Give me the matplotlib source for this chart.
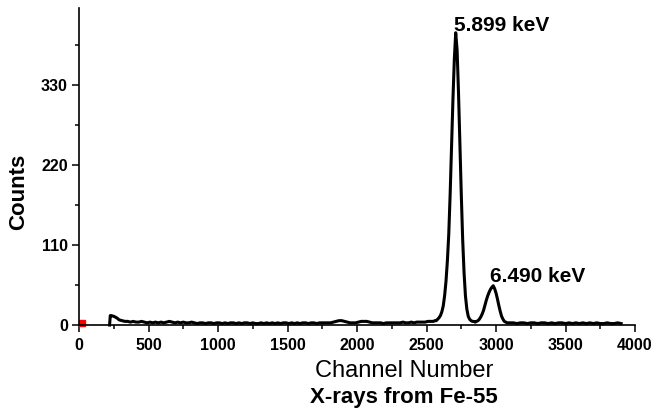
import matplotlib
matplotlib.use("Agg")
import matplotlib.pyplot as plt
from matplotlib.ticker import MultipleLocator

plt.rcParams['font.family'] = ['Liberation Sans', 'DejaVu Sans']

# spectrum: channel, counts
channels = [220, 225, 230, 250, 270, 290, 310, 330, 350, 370, 390, 410, 430, 450, 470, 490,
            510, 530, 550, 570, 590, 610, 630, 650, 670, 690, 710, 730, 750, 770, 790,
            810, 830, 850, 870, 890, 910, 930, 950, 970, 990, 1010, 1030, 1050, 1070, 1090,
            1110, 1130, 1150, 1170, 1190, 1210, 1230, 1250, 1270, 1290, 1310, 1330, 1350,
            1370, 1390, 1410, 1430, 1450, 1470, 1490, 1510, 1530, 1550, 1570, 1590, 1610,
            1630, 1650, 1670, 1690, 1710, 1730, 1750, 1770, 1790, 1810, 1830, 1850, 1870,
            1890, 1910, 1930, 1950, 1970, 1990, 2010, 2030, 2050, 2070, 2090, 2110, 2130,
            2150, 2170, 2190, 2210, 2230, 2250, 2270, 2290, 2310, 2330, 2350, 2370, 2390,
            2410, 2430, 2450, 2470, 2490, 2510, 2530, 2540,
            2550, 2560, 2570, 2580, 2590, 2600, 2610, 2620, 2630, 2640, 2650, 2660, 2670,
            2680, 2690, 2700, 2710, 2720, 2730, 2740, 2750, 2760, 2770, 2780, 2790, 2800,
            2810, 2820, 2830, 2840, 2850, 2860, 2870, 2880, 2890, 2900, 2910, 2920, 2930,
            2940, 2950, 2960, 2970, 2980, 2990, 3000, 3010, 3020, 3030, 3040, 3050, 3060,
            3070, 3080, 3100, 3125, 3150, 3175, 3200, 3225, 3250, 3275, 3300, 3325, 3350,
            3375, 3400, 3425, 3450, 3475, 3500, 3525, 3550, 3575, 3600, 3625, 3650, 3675,
            3700, 3725, 3750, 3775, 3800, 3825, 3850, 3875, 3900]
counts = [0, 13, 13, 12, 10, 7, 6, 5, 5, 4, 5, 4, 4, 5, 4, 3,
          4, 3, 4, 3, 4, 3, 4, 5, 4, 3, 4, 3, 4, 3, 3,
          4, 3, 2, 3, 3, 2, 3, 3, 2, 3, 3, 2, 3, 2, 3,
          3, 2, 3, 2, 3, 3, 2, 3, 2, 2, 3, 2, 3,
          2, 3, 2, 3, 2, 3, 3, 2, 3, 2, 3, 2, 3,
          3, 2, 3, 3, 2, 3, 3, 3, 3, 3, 4, 5, 6,
          6, 5, 4, 3, 3, 3, 4, 5, 5, 5, 4, 3, 3,
          3, 3, 2, 3, 3, 3, 3, 3, 3, 4, 3, 3, 4,
          3, 4, 4, 4, 4, 5, 5, 5,
          5, 6, 6, 8, 10, 13, 18, 26, 40, 60, 88, 125, 180,
          245, 310, 365, 402, 378, 320, 250, 180, 118, 72, 40, 22, 12,
          8, 6, 5, 5, 4, 5, 6, 8, 11, 15, 20, 27, 34,
          40, 45, 49, 52, 54, 50, 44, 36, 27, 19, 12, 8, 5,
          4, 3, 3, 3, 2, 3, 3, 2, 3, 3, 2, 3, 3,
          2, 3, 2, 3, 3, 2, 3, 2, 3, 2, 3, 2, 3,
          2, 3, 2, 2, 3, 2, 2, 3, 2]

peak_labels = ["5.899 keV", "6.490 keV"]
peak_pos = [(2698, 404), (2957, 59)]

fig = plt.figure(figsize=(6.54, 4.19), dpi=100)
ax = fig.add_axes([0.1208, 0.2243, 0.8502, 0.7566])

ax.plot(channels, counts, color='black', lw=2.2, clip_on=False)
ax.plot([18], [3], 's', color='red', ms=3.8, clip_on=False)

for lab, (px, py) in zip(peak_labels, peak_pos):
    ax.text(px, py, lab, fontsize=15, fontweight='bold', va='baseline', ha='left')

ax.set_xlim(0, 4000)
ax.set_ylim(0, 436)
ax.set_xticks([0, 500, 1000, 1500, 2000, 2500, 3000, 3500, 4000])
ax.set_yticks([0, 110, 220, 330])
ax.xaxis.set_minor_locator(MultipleLocator(250))
ax.yaxis.set_minor_locator(MultipleLocator(55))
ax.spines['top'].set_visible(False)
ax.spines['right'].set_visible(False)
for s in ['left', 'bottom']:
    ax.spines[s].set_linewidth(1.2)
ax.tick_params(axis='both', which='major', length=5, width=1.1, labelsize=11.5, pad=3)
ax.tick_params(axis='both', which='minor', length=3, width=1.1)
ax.tick_params(axis='x', which='major', pad=4.5)
for lbl in ax.get_xticklabels() + ax.get_yticklabels():
    lbl.set_fontweight('bold')

fig.text(0.028, 0.542, "Counts", rotation=90, fontsize=16, fontweight='bold',
         ha='center', va='center')
fig.text(0.618, 0.1002, "Channel Number", fontsize=17, ha='center', va='baseline')
fig.text(0.618, 0.0382, "X-rays from Fe-55", fontsize=16, fontweight='bold',
         ha='center', va='baseline')

fig.savefig("out.png", dpi=100)
